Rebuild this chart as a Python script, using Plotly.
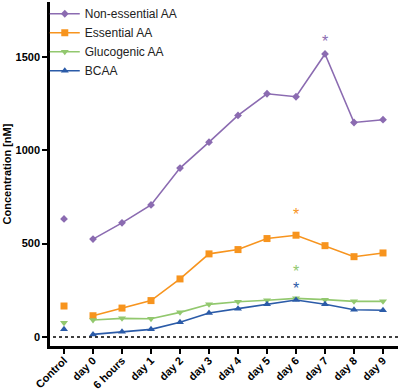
import plotly.graph_objects as go

categories = ["Control", "day 0", "6 hours", "day 1", "day 2", "day 3", "day 4",
              "day 5", "day 6", "day 7", "day 8", "day 9"]
series_names = ["Non-essential AA", "Essential AA", "Glucogenic AA", "BCAA"]
non_essential = [632, 524, 611, 707, 904, 1043, 1186, 1302, 1286, 1515, 1148, 1163]
essential = [166, 114, 155, 195, 311, 445, 468, 527, 545, 489, 430, 450]
glucogenic = [77, 91, 100, 98, 132, 175, 189, 197, 207, 200, 191, 191]
bcaa = [41, 14, 28, 41, 79, 129, 152, 175, 198, 175, 146, 143]
# significance stars: (series index, category index, y position)
star_series = [0, 1, 2, 3]
star_cat = [9, 8, 8, 8]
star_y = [1580, 655, 352, 262]

colors = ["#8B6BB1", "#F7941E", "#92C86E", "#2B5BA8"]
symbols = ["diamond", "square", "triangle-down", "triangle-up"]
sizes = [6, 7, 7, 7]
all_series = [non_essential, essential, glucogenic, bcaa]

xs = list(range(len(categories)))
fig = go.Figure()
for name, vals, c, s, sz in zip(series_names, all_series, colors, symbols, sizes):
    fig.add_trace(go.Scatter(x=xs[1:], y=vals[1:], mode="lines+markers", name=name,
                             line=dict(color=c, width=1.6),
                             marker=dict(symbol=s, size=sz, color=c)))
for name, vals, c, s, sz in zip(series_names, all_series, colors, symbols, sizes):
    fig.add_trace(go.Scatter(x=xs[:1], y=vals[:1], mode="markers", showlegend=False,
                             marker=dict(symbol=s, size=sz, color=c)))
for si, ci, yv in zip(star_series, star_cat, star_y):
    fig.add_annotation(x=ci, y=yv, text="*", showarrow=False,
                       font=dict(family="Liberation Sans", size=16, color=colors[si]))

fig.add_shape(type="line", xref="x", yref="y", x0=-0.38, x1=11.52, y0=0, y1=0,
              line=dict(color="black", width=1.5, dash="dot"))

fig.update_layout(
    width=400, height=390,
    margin=dict(l=50, r=2, t=2, b=44, autoexpand=False),
    plot_bgcolor="white", paper_bgcolor="white",
    font=dict(family="Liberation Sans", color="black"),
    showlegend=True,
    legend=dict(x=-0.015, y=1.008, xanchor="left", yanchor="top",
                font=dict(size=12, color="#222"), bgcolor="rgba(0,0,0,0)",
                itemwidth=30, tracegroupgap=0),
    xaxis=dict(range=[-0.483, 11.517], tickvals=xs, ticktext=categories,
               tickangle=-45, showgrid=False, zeroline=False, automargin=False,
               showline=True, linecolor="black", linewidth=2.5,
               ticks="outside", ticklen=5, tickwidth=2, tickcolor="black",
               ticklabelstandoff=-4,
               tickfont=dict(size=11, weight="bold", color="black")),
    yaxis=dict(range=[-48, 1793], tickvals=[0, 500, 1000, 1500],
               showgrid=False, zeroline=False, automargin=False,
               showline=True, linecolor="black", linewidth=2.5,
               ticks="outside", ticklen=5, tickwidth=2, tickcolor="black",
               tickfont=dict(size=11, weight="bold", color="black"),
               title=dict(text="Concentration [nM]", standoff=2,
                          font=dict(size=11, weight="bold", color="black"))),
)
fig.write_html("out.html", config={"displayModeBar": False},
               post_script="document.body.style.margin='0';document.body.style.padding='0';")
